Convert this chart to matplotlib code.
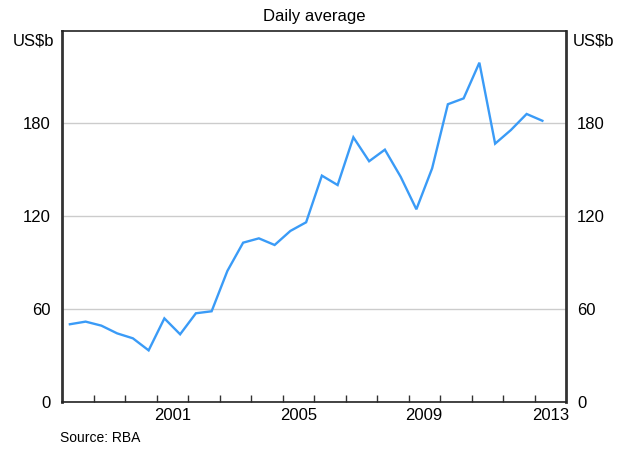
import numpy as np
import matplotlib
matplotlib.use('Agg')
import matplotlib.pyplot as plt

plt.rcParams['font.family'] = ['Liberation Sans', 'DejaVu Sans']

# -----------------------------------------------------------------------
# Data (semi-annual, US$b daily average)
# -----------------------------------------------------------------------
PERIODS = ['1998-04', '1998-10', '1999-04', '1999-10', '2000-04', '2000-10',
           '2001-04', '2001-10', '2002-04', '2002-10', '2003-04', '2003-10',
           '2004-04', '2004-10', '2005-04', '2005-10', '2006-04', '2006-10',
           '2007-04', '2007-10', '2008-04', '2008-10', '2009-04', '2009-10',
           '2010-04', '2010-10', '2011-04', '2011-10', '2012-04', '2012-10',
           '2013-04']
TURNOVER = [50.0, 51.7, 49.1, 44.1, 40.9, 33.1,
            53.8, 43.5, 57.1, 58.4, 84.5, 102.8,
            105.6, 101.3, 110.4, 116.0, 146.2, 140.1,
            171.0, 155.5, 163.0, 145.5, 124.4, 150.9,
            192.4, 196.2, 219.3, 166.9, 175.7, 186.1,
            181.7]
YTICKS = [0, 60, 120, 180]
YEAR_LABELS = [2001, 2005, 2009, 2013]


def to_decyear(p):
    y, m = p.split('-')
    return int(y) + (int(m) - 1) / 12.0


x = np.array([to_decyear(p) for p in PERIODS])

fig = plt.figure(figsize=(6.19, 4.5), dpi=100)
ax = fig.add_axes([62 / 619, 1 - 401.5 / 450, 504 / 619, 370.8 / 450])

ax.plot(x, TURNOVER, color='#3a9bf7', lw=1.7, solid_joinstyle='miter', zorder=3)

ax.set_xlim(1998, 2014)
ax.set_ylim(0, 240)

# y axis: labels on both sides, no tick marks
ax.set_yticks(YTICKS)
ax.tick_params(axis='y', length=0, labelsize=12, pad=8,
               left=True, right=True, labelleft=True, labelright=True)
ax.yaxis.grid(True, color='#cccccc', lw=1.0)
ax.set_axisbelow(True)

# x axis: inward ticks at year boundaries, labels mid-year
ax.set_xticks(np.arange(1999, 2014), minor=False)
ax.set_xticklabels([])
ax.tick_params(axis='x', which='major', direction='in', length=5,
               width=1.0, color='#333333')
ax.set_xticks([y + 0.5 for y in YEAR_LABELS], minor=True)
ax.set_xticklabels([str(y) for y in YEAR_LABELS], minor=True)
ax.tick_params(axis='x', which='minor', length=0, labelsize=12, pad=5)

for side in ['left', 'right']:
    ax.spines[side].set_linewidth(2.0)
    ax.spines[side].set_color('#333333')
for side in ['top', 'bottom']:
    ax.spines[side].set_linewidth(1.2)
    ax.spines[side].set_color('#222222')

fig.text(0.5 * (62 + 566) / 619, 1 - 16 / 450, 'Daily average',
         ha='center', va='center', fontsize=12)
fig.text(54 / 619, 1 - 41 / 450, 'US$b', ha='right', va='center', fontsize=12)
fig.text(573 / 619, 1 - 41 / 450, 'US$b', ha='left', va='center', fontsize=12)
fig.text(60 / 619, 1 - 438 / 450, 'Source: RBA', ha='left', va='center',
         fontsize=10)

fig.savefig('out.png', dpi=100)
